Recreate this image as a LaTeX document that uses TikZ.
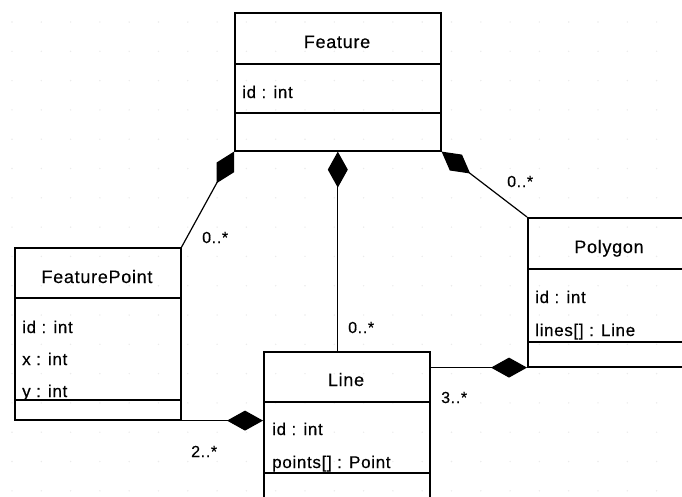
\documentclass[tikz,border=0pt]{standalone}
\usepackage{fontspec}
\setmainfont[LetterSpace=4,FakeBold=0.4]{Liberation Sans}
\usetikzlibrary{arrows.meta}
\begin{document}
\begin{tikzpicture}[x=1pt,y=-1pt,
  cls/.style={draw, line width=1.6pt, inner sep=0, anchor=north west},
  sep/.style={line width=1.6pt},
  title/.style={anchor=base, inner sep=0, font=\fontsize{18}{20}\selectfont},
  attr/.style={anchor=base west, inner sep=0, font=\fontsize{17}{20}\selectfont},
  mult/.style={anchor=base west, inner sep=0, font=\fontsize{16}{20}\selectfont},
  comp/.style={line width=1.2pt, -{Diamond[length=36pt,width=20pt]}},
]
\useasboundingbox (0,0) rectangle (682,496);
\clip (0,0) rectangle (682,496);

% faint background grid
\foreach \i in {0,...,23}
  \foreach \j in {0,...,17}
    \fill[black!8] (12+29.3*\i,22+29.3*\j) circle (0.8pt);

% Feature
\node[cls, minimum width=206pt, minimum height=138pt] (feat) at (234,12) {};
\draw[sep] (feat.west |- 0,64) -- (feat.east |- 0,64);
\draw[sep] (feat.west |- 0,113) -- (feat.east |- 0,113);
\node[title] (featT) at (337,48) {Feature};
\node[attr] (featA1) at (242,98) {id : int};

% FeaturePoint
\node[cls, minimum width=166pt, minimum height=172pt] (fp) at (14,247) {};
\draw[sep] (fp.west |- 0,298) -- (fp.east |- 0,298);
\draw[sep] (fp.west |- 0,400) -- (fp.east |- 0,400);
\node[title] (fpT) at (97,283) {FeaturePoint};
\node[attr] (fpA1) at (22,333) {id : int};
\node[attr] (fpA2) at (22,365) {x : int};
\node[attr] (fpA3) at (22,397) {y : int};

% Line
\node[cls, minimum width=166pt, minimum height=170pt] (line) at (263,351) {};
\draw[sep] (line.west |- 0,402) -- (line.east |- 0,402);
\draw[sep] (line.west |- 0,473) -- (line.east |- 0,473);
\node[title] (lineT) at (346,386) {Line};
\node[attr] (lineA1) at (272,435) {id : int};
\node[attr] (lineA2) at (272,468) {points[] : Point};

% Polygon
\node[cls, minimum width=180pt, minimum height=149pt] (poly) at (527,217) {};
\draw[sep] (poly.west |- 0,269) -- (poly.east |- 0,269);
\draw[sep] (poly.west |- 0,342) -- (poly.east |- 0,342);
\node[title] (polyT) at (609,253) {Polygon};
\node[attr] (polyA1) at (535,303) {id : int};
\node[attr] (polyA2) at (535,336) {lines[] : Line};

% compositions
\draw[comp] (fp.north east) -- (feat.south west);
\draw[comp] (line.north west -| feat.south) -- (feat.south);
\draw[comp] (poly.north west) -- (feat.south east);
\draw[comp] (line.east |- poly.south west) -- (poly.south west);
\draw[comp] (fp.south east) -- (line.west |- fp.south east);

% multiplicities
\node[mult] (m1) at (202,243) {0..*};
\node[mult] (m2) at (348,333) {0..*};
\node[mult] (m3) at (507,187) {0..*};
\node[mult] (m4) at (441,403) {3..*};
\node[mult] (m5) at (191,457) {2..*};
\end{tikzpicture}
\end{document}
